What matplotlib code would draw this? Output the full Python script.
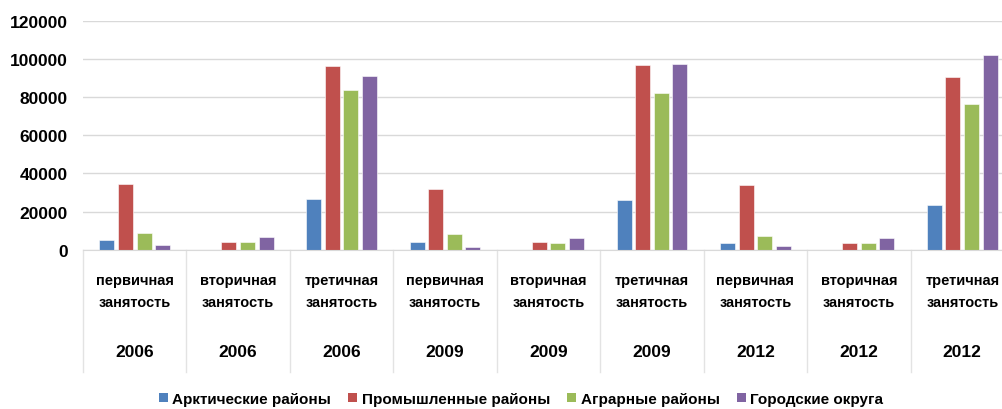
import matplotlib
matplotlib.use("Agg")
import matplotlib.pyplot as plt
import matplotlib.transforms as mtransforms
from matplotlib.patches import Patch
import numpy as np

plt.rcParams['font.family'] = ['Liberation Sans', 'DejaVu Sans']

# Category labels (two levels) and series values
employment = ["первичная\nзанятость", "вторичная\nзанятость", "третичная\nзанятость"] * 3
years = ["2006"] * 3 + ["2009"] * 3 + ["2012"] * 3

series_names = ["Арктические районы", "Промышленные районы", "Аграрные районы", "Городские округа"]
arctic = [5000, 0, 26700, 4000, 0, 26200, 3500, 0, 23200]
industrial = [34200, 4000, 96400, 31600, 4000, 96900, 33700, 3500, 90500]
agrarian = [8900, 4000, 83700, 8400, 3300, 82100, 7000, 3500, 76200]
urban = [2400, 6500, 91000, 1600, 5900, 97500, 1900, 5900, 101800]
y_ticks = [0, 20000, 40000, 60000, 80000, 100000, 120000]

colors = ["#4F81BD", "#C0504D", "#9BBB59", "#8064A2"]

W, H = 1003, 410
fig = plt.figure(figsize=(W / 100, H / 100), dpi=100)
left, right = 83 / W, 1014 / W
bottom, top = (H - 250.7) / H, (H - 21.7) / H
ax = fig.add_axes([left, bottom, right - left, top - bottom])

x = np.arange(len(employment))
slot, width = 0.18, 0.145
all_series = [arctic, industrial, agrarian, urban]
for i, (vals, c) in enumerate(zip(all_series, colors)):
    ax.bar(x + (i - 1.5) * slot, vals, width=width, color=c, zorder=3,
           edgecolor="white", linewidth=0.4)

ax.set_xlim(-0.5, len(employment) - 0.5)
ax.set_ylim(0, 120000)
ax.set_yticks(y_ticks)
ax.set_yticklabels([str(v) for v in y_ticks], fontsize=12.5, fontweight="bold")
ax.tick_params(axis="y", length=0, pad=11)
ax.set_xticks([])
ax.grid(axis="y", color="#d9d9d9", linewidth=1, zorder=0)
for s in ["top", "right", "left"]:
    ax.spines[s].set_visible(False)
ax.spines["bottom"].set_color("#d9d9d9")
ax.spines["bottom"].set_zorder(4)

# Two-level category axis with separators
trans = mtransforms.blended_transform_factory(ax.transData, ax.transAxes)
sep_bottom = (250.7 - 373) / (250.7 - 21.7)
for b in np.arange(-0.5, len(employment) + 0.5, 1.0):
    ax.plot([b, b], [0, sep_bottom], transform=trans, color="#e3e3e3",
            linewidth=1, clip_on=False)

ax_h = 250.7 - 21.7
for xi, (emp, yr) in enumerate(zip(employment, years)):
    ax.text(xi, -(292 - 250.7) / ax_h, emp, transform=trans, ha="center",
            va="center", fontsize=10.5, fontweight="bold", linespacing=1.65)
    ax.text(xi, -(353 - 250.7) / ax_h, yr, transform=trans, ha="center",
            va="center", fontsize=12.5, fontweight="bold")

handles = [Patch(facecolor=c, edgecolor="none") for c in colors]
fig.legend(handles, series_names, loc="center", bbox_to_anchor=(521 / W, (H - 400) / H),
           ncol=4, frameon=False, prop={"weight": "bold", "size": 11},
           handlelength=0.6, handleheight=0.6, handletextpad=0.3, columnspacing=1.1)

fig.savefig("out.png", dpi=100)
